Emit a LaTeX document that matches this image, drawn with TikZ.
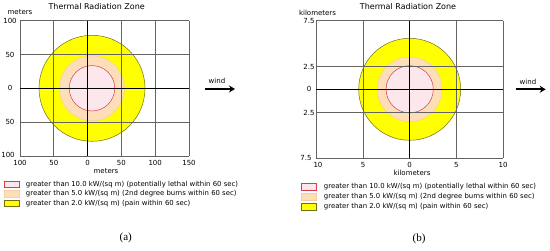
\documentclass[tikz,border=0pt]{standalone}
\usepackage{fontspec}
\setmainfont{DejaVu Sans}
\newfontfamily\capfont{Liberation Serif}
\usetikzlibrary{arrows.meta, positioning}
\definecolor{zonered}{RGB}{220,60,70}
\definecolor{fillred}{RGB}{252,232,236}
\definecolor{fillpeach}{RGB}{252,222,184}
\definecolor{drawpeach}{RGB}{248,205,160}
\definecolor{fillyellow}{RGB}{255,255,0}
\definecolor{drawolive}{RGB}{110,110,20}
\definecolor{gridgray}{RGB}{100,100,100}
\tikzset{
  gridline/.style={gridgray, line width=0.75pt},
  axisline/.style={black, line width=1.5pt},
  yellowzone/.style={draw=drawolive, fill=fillyellow, line width=0.5pt},
  peachzone/.style={draw=drawpeach, fill=fillpeach, line width=0.5pt},
  redzone/.style={draw=zonered, fill=fillred, line width=0.5pt},
  ticklabel/.style={font=\fontsize{7}{8}\selectfont, inner sep=1pt},
  titlelabel/.style={font=\fontsize{8}{9}\selectfont, inner sep=1pt},
  legendtext/.style={font=\fontsize{6.9}{8}\selectfont, inner sep=0pt},
  legendbox/.style={rectangle, minimum width=15pt, minimum height=6.5pt,
    inner sep=0pt, line width=0.6pt},
  windarrow/.style={-{Stealth[length=6pt, width=7pt]}, line width=2.2pt},
  caption/.style={font=\capfont\fontsize{11}{13}\selectfont}
}

\begin{document}
\begin{tikzpicture}[x=1pt, y=-1pt]
  \useasboundingbox (0,0) rectangle (550,251);

  % Panel (a): zones
  \coordinate (Ac) at (92,88.3);
  \draw[yellowzone] (Ac) circle[radius=53];
  \draw[peachzone] (Ac) circle[radius=32.5];
  \draw[redzone] (Ac) circle[radius=22.7];

  % Panel (a): grid and axes
  \foreach \gx in {20,53.8,121.4,155.2,189}
    \draw[gridline] (\gx,20.7) -- (\gx,155.9);
  \foreach \gy in {20.7,54.5,122.1,155.9}
    \draw[gridline] (20,\gy) -- (189,\gy);
  \draw[axisline] (87.6,20.7) -- (87.6,155.9);
  \draw[axisline] (20,88.3) -- (189,88.3);

  % Panel (a): labels
  \node[titlelabel] (Atitle) at (96.7,6.7) {Thermal Radiation Zone};
  \node[ticklabel] (Aunit) at (20,12.5) {meters};
  \foreach \gy/\lab [count=\i] in {20.7/100,54.5/50,88.3/0,122.1/50}
    \node[ticklabel] (Ay\i) at (10,\gy) {\lab};
  \node[ticklabel] (Ay5) at (8,155) {100};
  \foreach \gx/\lab [count=\i] in {20/100,53.8/50,87.6/0,121.4/50,155.2/100,189/150}
    \node[ticklabel] (Ax\i) at (\gx,162.7) {\lab};
  \node[ticklabel] (Axunit) at (106,170.7) {meters};

  % Panel (a): wind
  \coordinate (Aw0) at (205,89);
  \coordinate (Aw1) at (235,89);
  \draw[windarrow] (Aw0) -- (Aw1);
  \node[ticklabel] (Awind) at (217,81) {wind};

  % Panel (a): legend
  \node[legendbox, redzone] (Al1) at (12,184.2) {};
  \node[legendbox, peachzone] (Al2) at (12,193.7) {};
  \node[legendbox, yellowzone] (Al3) at (12,203.3) {};
  \node[legendtext, right=6pt of Al1] {greater than 10.0 kW/(sq m) (potentially lethal within 60 sec)};
  \node[legendtext, right=6pt of Al2] {greater than 5.0 kW/(sq m) (2nd degree burns within 60 sec)};
  \node[legendtext, right=6pt of Al3] {greater than 2.0 kW/(sq m) (pain within 60 sec)};
  \node[caption] (Acap) at (125.7,238.3) {(a)};

  % Panel (b): zones
  \coordinate (Bc) at (409.7,89.3);
  \draw[yellowzone] (Bc) circle[radius=51];
  \draw[peachzone] (Bc) circle[radius=32.3];
  \draw[redzone] (Bc) circle[radius=23.6];

  % Panel (b): grid and axes
  \foreach \gx in {316.3,363,456.3,503}
    \draw[gridline] (\gx,20.7) -- (\gx,158);
  \foreach \gy in {20.7,66.7,112.7,158}
    \draw[gridline] (316.3,\gy) -- (503,\gy);
  \draw[axisline] (409.7,20.7) -- (409.7,158);
  \draw[axisline] (316.3,89.3) -- (503,89.3);

  % Panel (b): labels
  \node[titlelabel] (Btitle) at (408,7) {Thermal Radiation Zone};
  \node[ticklabel] (Bunit) at (317.5,12.5) {kilometers};
  \foreach \gy/\lab [count=\i] in {20.7/7.5,66.7/2.5,89.3/0,112.7/2.5}
    \node[ticklabel] (By\i) at (309,\gy) {\lab};
  \node[ticklabel] (By5) at (306,158.3) {7.5};
  \foreach \gx/\lab [count=\i] in {318/10,363/5,409.7/0,456.3/5,503/10}
    \node[ticklabel] (Bx\i) at (\gx,164.5) {\lab};
  \node[ticklabel] (Bxunit) at (412,172.7) {kilometers};

  % Panel (b): wind
  \coordinate (Bw0) at (515.7,89.3);
  \coordinate (Bw1) at (545.7,89.3);
  \draw[windarrow] (Bw0) -- (Bw1);
  \node[ticklabel] (Bwind) at (528,82) {wind};

  % Panel (b): legend
  \node[legendbox, redzone] (Bl1) at (309,186.7) {};
  \node[legendbox, peachzone] (Bl2) at (309,196.7) {};
  \node[legendbox, yellowzone] (Bl3) at (309,207) {};
  \node[legendtext, right=7pt of Bl1] {greater than 10.0 kW/(sq m) (potentially lethal within 60 sec)};
  \node[legendtext, right=7pt of Bl2] {greater than 5.0 kW/(sq m) (2nd degree burns within 60 sec)};
  \node[legendtext, right=7pt of Bl3] {greater than 2.0 kW/(sq m) (pain within 60 sec)};
  \node[caption] (Bcap) at (419,239.3) {(b)};
\end{tikzpicture}
\end{document}
